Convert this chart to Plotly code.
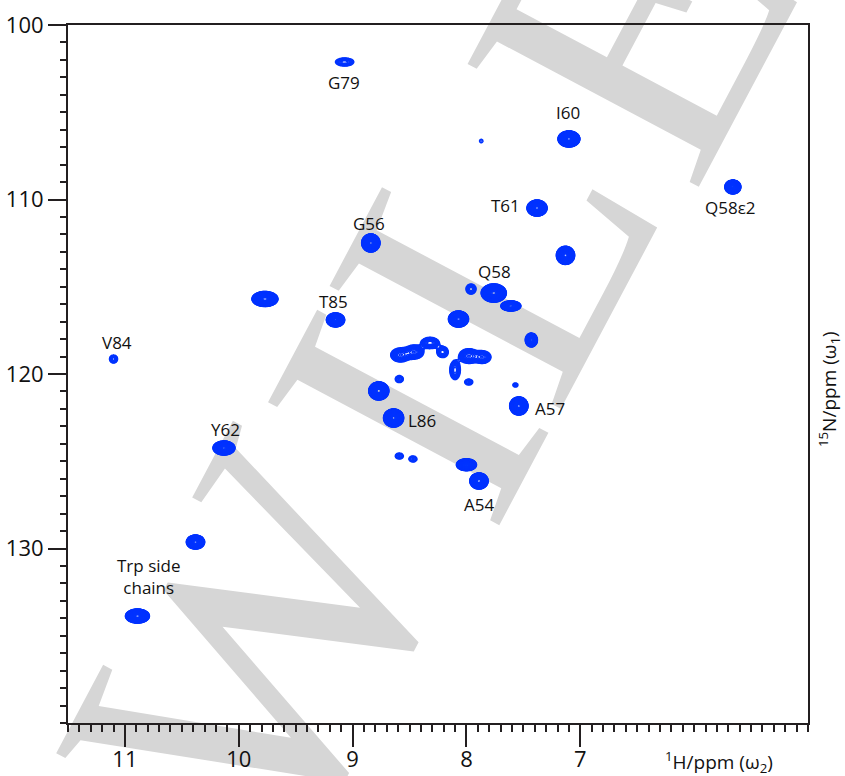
import numpy as np
import plotly.graph_objects as go

# ---- 1H-15N HSQC cross-peaks -------------------------------------------
# position (ppm), apparent half-width at lowest contour (ppm), relative height
peak_h = [9.07, 7.87, 7.10, 7.38, 5.66, 8.84, 7.13, 9.77, 9.15, 8.07,
          7.96, 7.76, 7.61, 7.43, 11.10,
          8.58, 8.46, 8.32, 8.21, 8.10, 7.98, 7.86, 8.59, 7.98, 7.57,
          8.77, 8.64, 7.54, 8.59, 8.47, 8.00, 7.89, 10.13, 10.38, 10.89]
peak_n = [102.12, 106.65, 106.53, 110.49, 109.28, 112.49, 113.20, 115.70, 116.90, 116.85,
          115.13, 115.36, 116.10, 118.05, 119.14,
          118.91, 118.74, 118.22, 118.74, 119.77, 118.97, 119.03, 120.29, 120.46, 120.63,
          120.97, 122.52, 121.83, 124.70, 124.87, 125.20, 126.13, 124.24, 129.63, 133.87]
half_h = [0.080, 0.015, 0.096, 0.088, 0.070, 0.080, 0.080, 0.114, 0.080, 0.088,
          0.044, 0.110, 0.088, 0.053, 0.035,
          0.085, 0.085, 0.080, 0.050, 0.046, 0.085, 0.075, 0.035, 0.035, 0.022,
          0.088, 0.088, 0.080, 0.035, 0.035, 0.088, 0.080, 0.096, 0.080, 0.105]
half_n = [0.23, 0.10, 0.46, 0.46, 0.40, 0.52, 0.52, 0.43, 0.40, 0.46,
          0.29, 0.52, 0.29, 0.40, 0.23,
          0.40, 0.40, 0.32, 0.32, 0.55, 0.42, 0.36, 0.20, 0.17, 0.12,
          0.52, 0.52, 0.52, 0.17, 0.17, 0.34, 0.46, 0.40, 0.40, 0.40]
height = [3, 1.2, 200, 150, 100, 150, 150, 150, 100, 150,
          2.5, 200, 30, 20, 2.5,
          6, 6, 5, 3, 3.5, 6, 5, 2, 2, 1.5,
          150, 200, 200, 2, 2, 60, 150, 150, 150, 150]

# ---- assignments ---------------------------------------------------------
label_text = ["G79", "I60", "T61", "Q58ε2", "G56", "Q58", "T85", "V84",
              "Y62", "L86", "A57", "A54", "Trp side<br>chains"]
label_h = [9.08, 7.105, 7.66, 5.68, 8.86, 7.75, 9.17, 11.07,
           10.12, 8.39, 7.27, 7.89, 10.79]
label_n = [103.27, 105.04, 110.37, 110.48, 111.35, 114.15, 115.87, 118.22,
           123.20, 122.64, 121.95, 127.50, 131.58]

x_ticks = [11, 10, 9, 8, 7, 6, 5]
x_ticktext = ["11", "10", "9", "8", "7", "", ""]
y_ticks = [100, 110, 120, 130]

# publisher mark: letters and their centres on the page (pixels)
mark_letters = ["W", "I", "L", "E", "Y"]
mark_px = [258, 405, 494, 632, 758]
mark_py = [645, 416, 248, 26, -210]

BLUE = "#0033ff"
INK = "#231f20"
FONT = "Open Sans"

# ---- spectrum grid -------------------------------------------------------
h_axis = np.arange(5.0, 11.5001, 0.008)
n_axis = np.arange(100.0, 140.0001, 0.06)
H, N = np.meshgrid(h_axis, n_axis)
S = np.zeros_like(H)
for h0, n0, wh, wn, a in zip(peak_h, peak_n, half_h, half_n, height):
    k = np.sqrt(2.0 * np.log(a))
    sh, sn = wh / k, wn / k
    S += a * np.exp(-0.5 * (((H - h0) / sh) ** 2 + ((N - n0) / sn) ** 2))
Z = np.log10(S + 1e-4).astype(np.float32)

fig = go.Figure()

# watermark letters on a hidden base layer underneath the spectrum
fig.add_trace(go.Bar(
    x=mark_px, y=[20] * len(mark_px), base=[v - 10 for v in mark_py],
    width=[1] * len(mark_px),
    xaxis="x", yaxis="y",
    marker=dict(color="rgba(0,0,0,0)", line=dict(width=0)),
    text=mark_letters, textposition="inside", insidetextanchor="middle",
    textangle=-62, constraintext="none", cliponaxis=False,
    insidetextfont=dict(family="Liberation Serif", size=400, color="#d6d6d6"),
    hoverinfo="skip", showlegend=False,
))

fig.add_trace(go.Contour(
    x=h_axis, y=n_axis, z=Z, xaxis="x2", yaxis="y2",
    autocontour=False,
    contours=dict(start=0, end=3, size=0.07, coloring="lines"),
    line=dict(width=1.6, smoothing=1),
    colorscale=[[0, BLUE], [1, BLUE]], showscale=False,
    hoverinfo="skip",
))

annotations = []
for t, hx, ny in zip(label_text, label_h, label_n):
    annotations.append(dict(x=hx, y=ny, xref="x2", yref="y2", text=t,
                            showarrow=False, font=dict(family=FONT, size=17, color="#111")))

annotations.append(dict(x=5.78, y=-0.056, xref="x2", yref="paper",
                        xanchor="center", yanchor="middle",
                        text="<sup>1</sup>H/ppm (ω<sub>2</sub>)", showarrow=False,
                        font=dict(family=FONT, size=19, color="#111")))
annotations.append(dict(x=1.0285, y=120.86, xref="paper", yref="y2",
                        xanchor="center", yanchor="middle",
                        text="<sup>15</sup>N/ppm (ω<sub>1</sub>)", textangle=-90,
                        showarrow=False, font=dict(family=FONT, size=19, color="#111")))

fig.update_layout(
    width=845, height=776,
    margin=dict(l=68, r=37, t=25, b=53, autoexpand=False),
    paper_bgcolor="white", plot_bgcolor="white",
    showlegend=False,
    annotations=annotations,
    xaxis=dict(visible=False, range=[68, 808], fixedrange=True, automargin=False),
    yaxis=dict(visible=False, range=[723, 25], fixedrange=True, automargin=False),
    xaxis2=dict(
        overlaying="x", anchor="y2", range=[11.5, 5.0], automargin=False,
        showline=True, mirror=True, linecolor=INK, linewidth=2,
        ticks="outside", ticklen=22, tickwidth=2, tickcolor=INK,
        tickvals=x_ticks, ticktext=x_ticktext, ticklabelstandoff=-6,
        minor=dict(ticks="outside", ticklen=7, tickwidth=1.5, tickcolor=INK,
                   tickvals=[round(v, 1) for v in np.arange(5.0, 11.51, 0.1)]),
        showgrid=False, zeroline=False,
        tickfont=dict(family=FONT, size=22, color="#111"),
    ),
    yaxis2=dict(
        overlaying="y", anchor="x2", range=[140, 100], side="left", automargin=False,
        showline=True, mirror=True, linecolor=INK, linewidth=2,
        ticks="outside", ticklen=18, tickwidth=2, tickcolor=INK,
        tickvals=y_ticks,
        minor=dict(ticks="outside", ticklen=6, tickwidth=1.5, tickcolor=INK,
                   tickvals=list(range(100, 141))),
        showgrid=False, zeroline=False,
        tickfont=dict(family=FONT, size=22, color="#111"),
    ),
)

fig.write_html("out.html")
